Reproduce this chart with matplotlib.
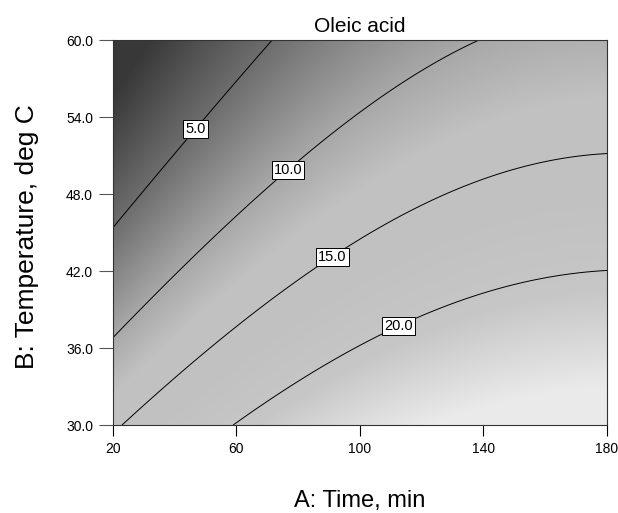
import numpy as np
import matplotlib
matplotlib.use("Agg")
import matplotlib.pyplot as plt
from matplotlib.colors import LinearSegmentedColormap, Normalize

plt.rcParams['font.family'] = ['Liberation Sans', 'DejaVu Sans']

# points: time (min), temperature (C), level
c5_A = [20, 33.1, 46.2, 72.1]
c5_B = [45.3, 49.2, 53.2, 60.0]
c10_A = [20, 50.4, 76.0, 96.8, 138.5]
c10_B = [36.8, 43.8, 50.1, 53.5, 60.0]
c15_A = [22.6, 58.9, 90.3, 96.8, 139.8, 161.5, 180]
c15_B = [30.0, 37.4, 43.4, 43.8, 49.1, 50.65, 51.2]
c20_A = [58.9, 98.4, 112.3, 152.8, 180]
c20_B = [30.0, 35.9, 37.8, 41.1, 42.0]

levels = [5.0, 10.0, 15.0, 20.0]
label_A = [46.2, 76.0, 90.3, 112.3]
label_B = [53.2, 50.1, 43.4, 37.8]

# grey shading vs response value
shade_vals = [0, 5, 10, 13, 17, 21, 26]
shade_grey = [0.22, 0.43, 0.66, 0.76, 0.76, 0.78, 0.92]

x_ticks = [20, 60, 100, 140, 180]
y_ticks = [30.0, 36.0, 42.0, 48.0, 54.0, 60.0]


def terms(A, B):
    a = (np.asarray(A) - 100.0) / 80.0
    b = (np.asarray(B) - 45.0) / 15.0
    return np.stack([np.ones_like(a), a, b, a * b, a * a, b * b], axis=-1)


pts_A = np.concatenate([c5_A, c10_A, c15_A, c20_A])
pts_B = np.concatenate([c5_B, c10_B, c15_B, c20_B])
pts_v = np.concatenate([np.full(len(c5_A), 5.0), np.full(len(c10_A), 10.0),
                        np.full(len(c15_A), 15.0), np.full(len(c20_A), 20.0)])
coef, *_ = np.linalg.lstsq(terms(pts_A, pts_B), pts_v, rcond=None)

gA, gB = np.meshgrid(np.linspace(20, 180, 400), np.linspace(30, 60, 400))
Z = terms(gA, gB) @ coef

vmax = shade_vals[-1]
cmap = LinearSegmentedColormap.from_list(
    'g', [(v / vmax, (g, g, g)) for v, g in zip(shade_vals, shade_grey)])

fig = plt.figure(figsize=(6.18, 5.13), dpi=100)
ax = fig.add_axes([0.1828, 0.1715, 0.7994, 0.7505])

ax.imshow(Z, extent=[20, 180, 30, 60], origin='lower', aspect='auto',
          cmap=cmap, norm=Normalize(0, vmax), interpolation='bilinear')
cs = ax.contour(gA, gB, Z, levels=levels, colors='black', linewidths=0.7)
lbls = ax.clabel(cs, fmt='%.1f', inline=False, fontsize=10.5,
                 manual=list(zip(label_A, label_B)))
for t in lbls:
    t.set_rotation(0)
    t.set_bbox(dict(facecolor='white', edgecolor='black', linewidth=0.7, pad=1.5))
    t.set_zorder(5)

ax.set_xlim(20, 180)
ax.set_ylim(30, 60)
ax.set_xticks(x_ticks)
ax.set_xticklabels([str(v) for v in x_ticks])
ax.set_yticks(y_ticks)
ax.set_yticklabels(['%.1f' % v for v in y_ticks])
ax.tick_params(axis='x', direction='out', length=8, width=0.8, pad=4.3, labelsize=10)
ax.tick_params(axis='y', direction='out', length=10, width=0.8, pad=4.3,
               labelsize=10, color='#555555')
for s in ax.spines.values():
    s.set_linewidth(0.8)
    s.set_color('#333333')

ax.set_title('Oleic acid', fontsize=15, pad=6)
ax.set_xlabel('A: Time, min', fontsize=17)
ax.set_ylabel('B: Temperature, deg C', fontsize=19)
ax.xaxis.set_label_coords(0.5, -0.17)
ax.yaxis.set_label_coords(-0.149, 0.49)

fig.savefig('out.png', dpi=100)
